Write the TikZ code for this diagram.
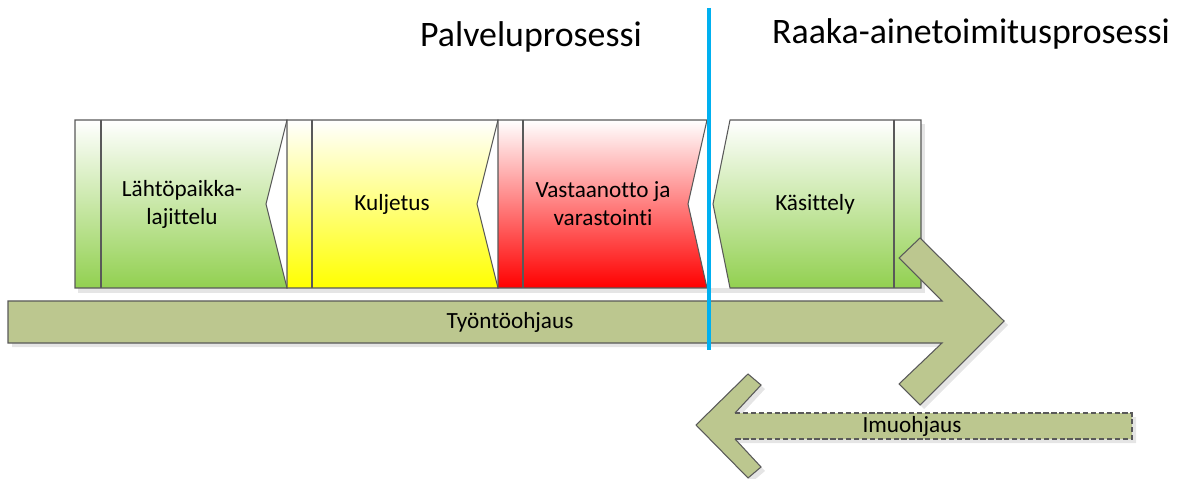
\documentclass[tikz,border=0pt]{standalone}
\usepackage{fontspec}
\setmainfont{Carlito}[Ligatures=NoCommon]
\usepackage{xcolor}
\usetikzlibrary{positioning}

\definecolor{procgreen}{HTML}{92D050}
\definecolor{procyellow}{HTML}{FFFF00}
\definecolor{procred}{HTML}{FF0000}
\definecolor{flowolive}{RGB}{188,199,143}
\definecolor{splitblue}{HTML}{00B0F0}
\definecolor{edgegray}{HTML}{595959}

\tikzset{
  procbox/.style={draw=edgegray, line width=0.6pt},
  flowarrow/.style={fill=flowolive},
  flowedge/.style={draw=edgegray, line width=0.6pt},
  shadowfill/.style={fill=black!10},
  boxtext/.style={font=\fontsize{13.2}{16}\selectfont, align=center},
  titletext/.style={font=\fontsize{20.4}{24}\selectfont}
}

\begin{document}
\begin{tikzpicture}[x=0.02cm, y=-0.02cm]
    \useasboundingbox (0,0) rectangle (1179,479);

    % Shadows
    \fill[shadowfill] (78,288) rectangle (925,293);
    \fill[shadowfill] (921,124) rectangle (925,293);
    \fill[shadowfill, shift={(4,4)}] (8,301) -- (942,301) -- (899,258) -- (920,238) -- (1004,321)
        -- (920,405) -- (899,384) -- (942,343) -- (8,343) -- cycle;
    \fill[shadowfill, shift={(4,4)}] (1132,413) -- (735,413) -- (761,385) -- (748,374) -- (696,425)
        -- (748,478) -- (761,467) -- (735,439) -- (1132,439) -- cycle;

    % Process steps
    \path[procbox, top color=white, bottom color=procgreen]
        (75,120) -- (287,120) -- (266,204) -- (287,288) -- (75,288) -- cycle;
    \draw[procbox] (101,120) -- (101,288);
    \node[boxtext] (sorting) at (182,204) {Lähtöpaikka-\\lajittelu};

    \path[procbox, top color=white, bottom color=procyellow]
        (287,120) -- (498,120) -- (477,204) -- (498,288) -- (287,288) -- cycle;
    \draw[procbox] (312,120) -- (312,288);
    \node[boxtext] (transport) at (392,204) {Kuljetus};

    \path[procbox, top color=white, bottom color=procred]
        (498,120) -- (707,120) -- (688,204) -- (707,288) -- (498,288) -- cycle;
    \draw[procbox] (523,120) -- (523,288);
    \node[boxtext] (storage) at (603,204) {Vastaanotto ja\\varastointi};

    \path[procbox, top color=white, bottom color=procgreen]
        (730,120) -- (921,120) -- (921,288) -- (730,288) -- (713,204) -- cycle;
    \draw[procbox] (894,120) -- (894,288);
    \node[boxtext] (handling) at (815,204) {Käsittely};

    % Push arrow
    \path[flowarrow, flowedge] (8,301) -- (942,301) -- (899,258) -- (920,238) -- (1004,321)
        -- (920,405) -- (899,384) -- (942,343) -- (8,343) -- cycle;
    \node[boxtext] (push) at (510,322) {Työntöohjaus};

    % Pull arrow
    \fill[flowarrow] (1132,413) -- (735,413) -- (761,385) -- (748,374) -- (696,425)
        -- (748,478) -- (761,467) -- (735,439) -- (1132,439) -- cycle;
    \draw[flowedge] (735,413) -- (761,385) -- (748,374) -- (696,425)
        -- (748,478) -- (761,467) -- (735,439);
    \draw[flowedge, dash pattern=on 3pt off 1.5pt] (735,413) -- (1132,413) -- (1132,439) -- (735,439);
    \node[boxtext] (pull) at (912,426) {Imuohjaus};

    % Process boundary
    \draw[splitblue, line width=2.8pt] (709,8) -- (709,350);
    \node[titletext] (service) at (531,37) {Palveluprosessi};
    \node[titletext] (supply) at (971,34) {Raaka-ainetoimitusprosessi};
\end{tikzpicture}
\end{document}
